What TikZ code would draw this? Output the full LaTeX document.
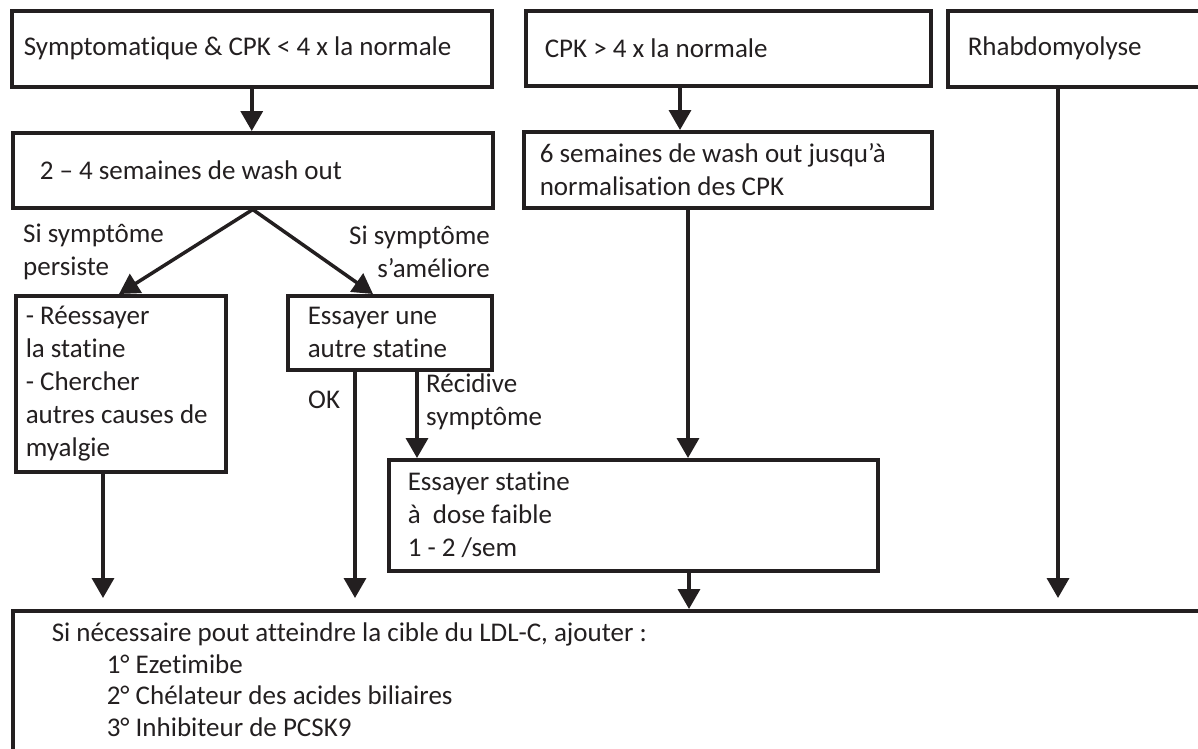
\documentclass[tikz,border=0pt]{standalone}
\usepackage{fontspec}
\setmainfont{Carlito}[Ligatures=NoCommon]
\usetikzlibrary{arrows.meta}
\definecolor{ink}{RGB}{35,31,32}
\tikzset{
  box/.style={draw=ink, line width=3.5pt, anchor=north west, align=flush left, inner ysep=0pt},
  arr/.style={draw=ink, line width=3.5pt, -{Triangle[length=20pt,width=22pt]}},
  lbl/.style={inner sep=0pt}
}
\begin{document}
\begin{tikzpicture}[x=1pt, y=-1pt, color=ink, font=\fontsize{27}{33}\selectfont]
  \useasboundingbox (0,0) rectangle (1198,748);
  \clip (0,0) rectangle (1198,748);
  % top row
  \node[box, text width=456pt, inner xsep=12pt, minimum height=76pt] (sym) at (10,9) {Symptomatique \& CPK < 4 x la normale};
  \node[box, text width=367pt, inner xsep=19pt, minimum height=75pt] (cpk) at (524,9) {CPK > 4 x la normale};
  \node[box, text width=260pt, inner xsep=20pt, minimum height=76pt] (rhabdo) at (946,9) {Rhabdomyolyse};
  % wash out
  \node[box, text width=426pt, inner xsep=27pt, minimum height=75pt] (washA) at (11,131) {2 – 4 semaines de wash out};
  \node[box, text width=376pt, inner xsep=16pt, minimum height=76pt] (washB) at (522,130) {6 semaines de wash out jusqu’à\\normalisation des CPK};
  % second level
  \node[box, text width=190pt, inner xsep=10pt, minimum height=176pt] (retry) at (14,294) {- Réessayer\\la statine\\- Chercher\\autres causes de\\myalgie};
  \node[box, text width=164pt, inner xsep=20pt, minimum height=74pt] (other) at (286,294) {Essayer une\\autre statine};
  \node[box, text width=451pt, inner xsep=19pt, minimum height=111pt] (lowdose) at (387,458) {Essayer statine\\à\ \ dose faible\\1 - 2 /sem};
  % final box
  \node[box, text width=1200pt, inner xsep=39pt, inner ysep=12pt, text depth=140pt, font=\fontsize{27}{31.7}\selectfont] (resume) at (11,609)
    {Si nécessaire pout atteindre la cible du LDL-C, ajouter :\\
     \hspace*{55pt}1° Ezetimibe\\
     \hspace*{55pt}2° Chélateur des acides biliaires\\
     \hspace*{55pt}3° Inhibiteur de PCSK9};
  % labels
  \node[lbl, align=left, anchor=west] (persist) at (23,252) {Si symptôme\\persiste};
  \node[lbl, align=right, anchor=east] (improve) at (490,252) {Si symptôme\\s’améliore};
  \node[lbl, anchor=west] (ok) at (308,400) {OK};
  \node[lbl, align=left, anchor=west] (relapse) at (426,402) {Récidive\\symptôme};
  % arrows
  \draw[arr] (sym.south) -- (sym.south |- washA.north);
  \draw[arr] (cpk.south -| 680,0) -- (washB.north -| 680,0);
  \draw[arr] (washA.south) -- (retry.north -| 119,0);
  \draw[arr] (washA.south) -- (other.north -| 373,0);
  \draw[arr, shorten >=11pt] (retry.south -| 103,0) -- (resume.north -| 103,0);
  \draw[arr, shorten >=11pt] (other.south -| 355,0) -- (resume.north -| 355,0);
  \draw[arr] (other.south -| 417,0) -- (lowdose.north -| 417,0);
  \draw[arr] (washB.south -| 688,0) -- (lowdose.north -| 688,0);
  \draw[arr] (lowdose.south -| 689,0) -- (resume.north -| 689,0);
  \draw[arr, shorten >=11pt] (rhabdo.south -| 1058,0) -- (resume.north -| 1058,0);
\end{tikzpicture}
\end{document}
